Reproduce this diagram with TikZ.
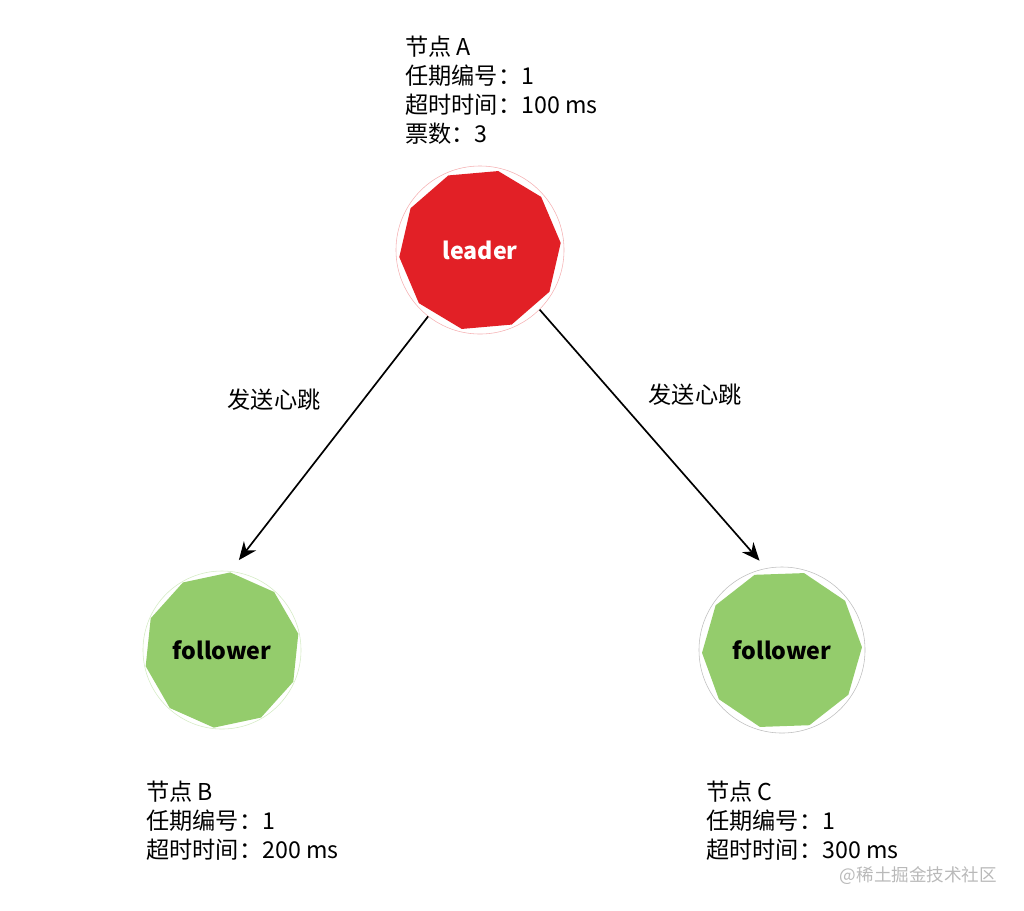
\documentclass[tikz,border=0pt]{standalone}
\usepackage{fontspec}
\setmainfont{Noto Sans CJK SC}
\usetikzlibrary{arrows.meta,shapes.geometric}
\definecolor{leadred}{RGB}{226,32,38}
\definecolor{folgreen}{RGB}{148,204,108}
\definecolor{ringgray}{RGB}{190,190,190}

\begin{document}
\begin{tikzpicture}[x=0.025cm,y=-0.025cm,>={Stealth[length=0.45cm,width=0.38cm]},
  blob/.style={regular polygon,regular polygon sides=10,inner sep=0pt,minimum size=4cm},
  ring/.style={circle,draw=ringgray,line width=0.4pt,inner sep=0pt,minimum size=4.15cm,
    font=\fontsize{16.5}{18}\selectfont\bfseries},
  info/.style={anchor=north west,align=left,inner sep=0pt,font=\fontsize{16.5}{20.6}\selectfont},
  lbl/.style={font=\fontsize{16.5}{18}\selectfont},
  hb/.style={->,line width=1.2pt}]
\useasboundingbox (0,0) rectangle (1024,910);
% the three nodes
\node[blob,fill=leadred,minimum size=4.05cm,rotate=5] (leadpoly) at (480,250) {};
\node[ring,draw=leadred!35,minimum size=4.2cm,text=white] (leader) at (leadpoly) {leader};
\node[blob,fill=folgreen,minimum size=3.9cm,rotate=12] (polyB) at (222,650) {};
\node[ring,draw=folgreen!40,minimum size=3.95cm] (folB) at (polyB) {follower};
\node[blob,fill=folgreen,minimum size=4cm,rotate=2] (polyC) at (782,650) {};
\node[ring,minimum size=4.15cm] (folC) at (polyC) {follower};
% texts
\node[info] (infoA) at (405,36) {节点 A\\任期编号：1\\超时时间：100 ms\\票数：3};
\node[info] (infoB) at (146,781) {节点 B\\任期编号：1\\超时时间：200 ms};
\node[info] (infoC) at (706,781) {节点 C\\任期编号：1\\超时时间：300 ms};
\node[lbl] (hbB) at (274,400) {发送心跳};
\node[lbl] (hbC) at (695,395) {发送心跳};
\node[anchor=east,text=gray!55,font=\fontsize{12.5}{14}\selectfont] (mark) at (1002,876) {@稀土掘金技术社区};
% heartbeats
\draw[hb,shorten >=0.35cm] (leader.232) -- (folB.84);
\draw[hb,shorten >=0.25cm] (leader.315) -- (folC.101);
\end{tikzpicture}
\end{document}
